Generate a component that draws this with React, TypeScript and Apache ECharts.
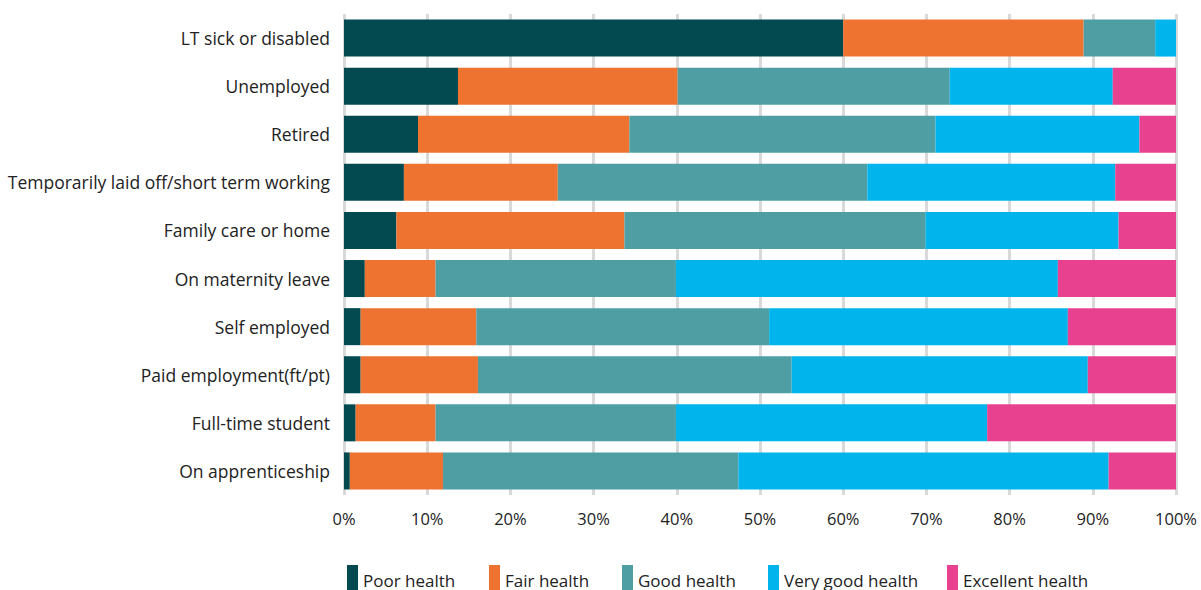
import React, { useEffect, useRef } from "react";
import * as echarts from "echarts";

const categories = [
  "LT sick or disabled",
  "Unemployed",
  "Retired",
  "Temporarily laid off/short term working",
  "Family care or home",
  "On maternity leave",
  "Self employed",
  "Paid employment(ft/pt)",
  "Full-time student",
  "On apprenticeship",
];

const seriesNames = ["Poor health", "Fair health", "Good health", "Very good health", "Excellent health"];
const colors = ["#024a50", "#ee7330", "#4f9ea3", "#02b4ec", "#e84190"];

const poorHealth = [60.0, 13.7, 8.9, 7.2, 6.3, 2.5, 2.0, 2.0, 1.4, 0.7];
const fairHealth = [28.9, 26.4, 25.4, 18.5, 27.4, 8.5, 13.9, 14.1, 9.6, 11.2];
const goodHealth = [8.6, 32.7, 36.8, 37.2, 36.2, 28.9, 35.2, 37.7, 28.9, 35.5];
const veryGoodHealth = [2.5, 19.6, 24.5, 29.8, 23.2, 45.9, 35.9, 35.6, 37.4, 44.5];
const excellentHealth = [0, 7.6, 4.4, 7.3, 6.9, 14.2, 13.0, 10.6, 22.7, 8.1];

const seriesData = [poorHealth, fairHealth, goodHealth, veryGoodHealth, excellentHealth];
const xTicks = [0, 10, 20, 30, 40, 50, 60, 70, 80, 90, 100];
const legendLeft = [342, 484, 617, 763, 942];

const FONT = "'Open Sans', 'Noto Sans', sans-serif";

export default function App() {
  const ref = useRef<HTMLDivElement>(null);
  useEffect(() => {
    document.body.style.margin = "0";
    if (!ref.current) return;
    const chart = echarts.init(ref.current, null, { renderer: "svg" });
    chart.setOption({
      animation: false,
      backgroundColor: "#ffffff",
      grid: { left: 344, right: 25, top: 14, bottom: 95, containLabel: false },
      xAxis: {
        type: "value",
        min: xTicks[0],
        max: xTicks[xTicks.length - 1],
        interval: 10,
        axisLabel: {
          formatter: "{value}%",
          fontFamily: FONT,
          fontSize: 16.5,
          color: "#222222",
          margin: 15,
        },
        axisLine: { show: false },
        axisTick: { show: false },
        splitLine: { show: true, lineStyle: { color: "#d9d9d9", width: 3 } },
      },
      yAxis: {
        type: "category",
        data: categories,
        inverse: true,
        axisLine: { show: false },
        axisTick: { show: false },
        axisLabel: {
          fontFamily: FONT,
          fontSize: 17.5,
          color: "#222222",
          margin: 14,
          verticalAlign: "middle",
          padding: [0, 0, 7, 0],
        },
      },
      legend: seriesNames.map((name, i) => ({
        left: legendLeft[i],
        top: 560,
        itemWidth: 11,
        itemHeight: 30,
        icon: "rect",
        textStyle: { fontFamily: FONT, fontSize: 17, color: "#222222", padding: [0, 0, 6, 0] },
        data: [name],
      })),
      series: seriesNames.map((name, i) => ({
        name,
        type: "bar",
        stack: "total",
        data: seriesData[i],
        barCategoryGap: "23%",
        itemStyle: { color: colors[i] },
        emphasis: { disabled: true },
      })),
    });
    return () => chart.dispose();
  }, []);
  return <div ref={ref} style={{ width: 1201, height: 590 }} />;
}
